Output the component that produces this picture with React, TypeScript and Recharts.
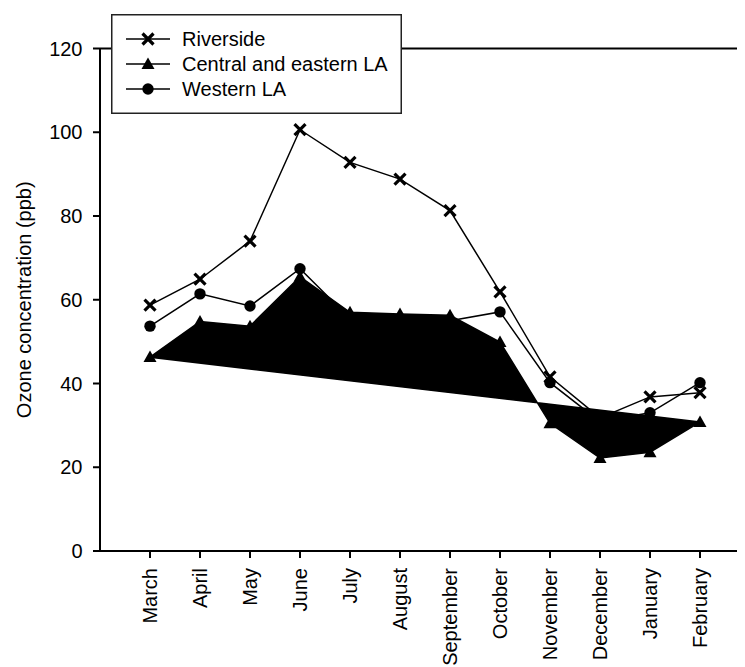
import React from "react";
import {
  LineChart,
  Line,
  XAxis,
  YAxis,
  Legend,
  ReferenceLine,
} from "recharts";

const MONTHS = [
  "March",
  "April",
  "May",
  "June",
  "July",
  "August",
  "September",
  "October",
  "November",
  "December",
  "January",
  "February",
];

const RIVERSIDE = [58.7, 64.9, 74.0, 100.6, 92.8, 88.8, 81.3, 61.9, 41.6, 31.8, 36.8, 37.8];
const CENTRAL_EASTERN = [46.3, 54.8, 53.7, 65.5, 57.0, 56.6, 56.3, 49.9, 30.5, 22.2, 23.6, 30.8];
const WESTERN = [53.7, 61.4, 58.5, 67.4, 55.5, 55.0, 55.0, 57.1, 40.2, 30.9, 33.0, 40.2];

const Y_TICKS = [0, 20, 40, 60, 80, 100, 120];

const SERIES = [
  { key: "riverside", name: "Riverside", marker: "cross" },
  { key: "central", name: "Central and eastern LA", marker: "triangle" },
  { key: "western", name: "Western LA", marker: "circle" },
];

const data = MONTHS.map((month, i) => ({
  idx: i + 1,
  month,
  riverside: RIVERSIDE[i],
  central: CENTRAL_EASTERN[i],
  western: WESTERN[i],
}));

const FONT = "'Liberation Sans', Arial, sans-serif";

// linear curve that closes back to the first point (the original plot
// filled this series as a polygon)
function closedLinear(context: any) {
  let started = false;
  return {
    areaStart() {},
    areaEnd() {},
    lineStart() {
      started = false;
    },
    lineEnd() {
      context.closePath();
    },
    point(x: number, y: number) {
      if (!started) {
        context.moveTo(x, y);
        started = true;
      } else {
        context.lineTo(x, y);
      }
    },
  };
}

function Marker({ type, cx, cy }: { type: string; cx: number; cy: number }) {
  if (type === "cross") {
    const h = 5.5;
    return (
      <g stroke="#000" strokeWidth={3.2}>
        <line x1={cx - h} y1={cy - h} x2={cx + h} y2={cy + h} />
        <line x1={cx - h} y1={cy + h} x2={cx + h} y2={cy - h} />
      </g>
    );
  }
  if (type === "triangle") {
    return (
      <polygon
        points={`${cx},${cy - 6.5} ${cx + 6.5},${cy + 5} ${cx - 6.5},${cy + 5}`}
        fill="#000"
      />
    );
  }
  return <circle cx={cx} cy={cy} r={5.7} fill="#000" />;
}

const makeDot = (type: string) => (props: any) => {
  const { cx, cy, index } = props;
  return (
    <g key={`${type}-${index}`}>
      <Marker type={type} cx={cx} cy={cy} />
    </g>
  );
};

function MonthTick(props: any) {
  const { x, y, payload } = props;
  return (
    <text
      x={x}
      y={y}
      transform={`rotate(-90, ${x}, ${y})`}
      textAnchor="end"
      dominantBaseline="central"
      fontSize={20}
      fontFamily={FONT}
      fill="#000"
    >
      {MONTHS[payload.value - 1]}
    </text>
  );
}

function LegendBox() {
  return (
    <svg width={291} height={100} style={{ display: "block" }}>
      <rect x={0.75} y={0.75} width={289.5} height={98.5} fill="#fff" stroke="#222" strokeWidth={1.5} />
      {SERIES.map((s, i) => {
        const y = 25 + i * 25;
        return (
          <g key={s.key}>
            <line x1={15} y1={y} x2={59} y2={y} stroke="#000" strokeWidth={1.5} />
            <Marker type={s.marker} cx={37} cy={y} />
            <text
              x={71}
              y={y}
              dominantBaseline="central"
              fontSize={20}
              fontFamily={FONT}
              fill="#000"
            >
              {s.name}
            </text>
          </g>
        );
      })}
    </svg>
  );
}

export default function App() {
  return (
    <div style={{ position: "relative", width: 737, height: 659, overflow: "hidden", background: "#fff" }}>
      <style>{`.central-series .recharts-line-curve { fill: #000; }`}</style>
      <LineChart
        width={780}
        height={659}
        data={data}
        margin={{ top: 40.5, right: 38, bottom: 0, left: 0 }}
      >
        <XAxis
          dataKey="idx"
          type="number"
          domain={[0, 13]}
          ticks={data.map((d) => d.idx)}
          interval={0}
          height={116}
          tickSize={7}
          tickMargin={10}
          tick={<MonthTick />}
          axisLine={{ stroke: "#000", strokeWidth: 2 }}
          tickLine={{ stroke: "#000", strokeWidth: 2 }}
        />
        <YAxis
          domain={[0, 120]}
          ticks={Y_TICKS}
          interval={0}
          width={92}
          tickSize={7}
          tickMargin={10.5}
          tick={{ fontSize: 20, fontFamily: FONT, fill: "#000" }}
          axisLine={{ stroke: "#000", strokeWidth: 2 }}
          tickLine={{ stroke: "#000", strokeWidth: 2 }}
          label={{
            content: ({ viewBox }: any) => {
              const cx = viewBox.x + 16;
              const cy = viewBox.y + viewBox.height / 2;
              return (
                <text
                  x={cx}
                  y={cy}
                  transform={`rotate(-90, ${cx}, ${cy})`}
                  textAnchor="middle"
                  dominantBaseline="central"
                  fontSize={20}
                  fontFamily={FONT}
                  fill="#000"
                >
                  Ozone concentration (ppb)
                </text>
              );
            },
          }}
        />
        <ReferenceLine y={120} stroke="#000" strokeWidth={2} />
        <Line
          dataKey="riverside"
          name="Riverside"
          stroke="#000"
          strokeWidth={1.5}
          dot={makeDot("cross")}
          activeDot={false}
          isAnimationActive={false}
        />
        <Line
          dataKey="western"
          name="Western LA"
          stroke="#000"
          strokeWidth={1.5}
          dot={makeDot("circle")}
          activeDot={false}
          isAnimationActive={false}
        />
        <Line
          dataKey="central"
          name="Central and eastern LA"
          className="central-series"
          type={closedLinear as any}
          stroke="#000"
          strokeWidth={1.5}
          dot={makeDot("triangle")}
          activeDot={false}
          isAnimationActive={false}
        />
        <Legend
          layout="vertical"
          align="center"
          verticalAlign="middle"
          content={() => <LegendBox />}
          wrapperStyle={{ left: 103, top: 6, width: 291, height: 100 }}
        />
      </LineChart>
    </div>
  );
}
